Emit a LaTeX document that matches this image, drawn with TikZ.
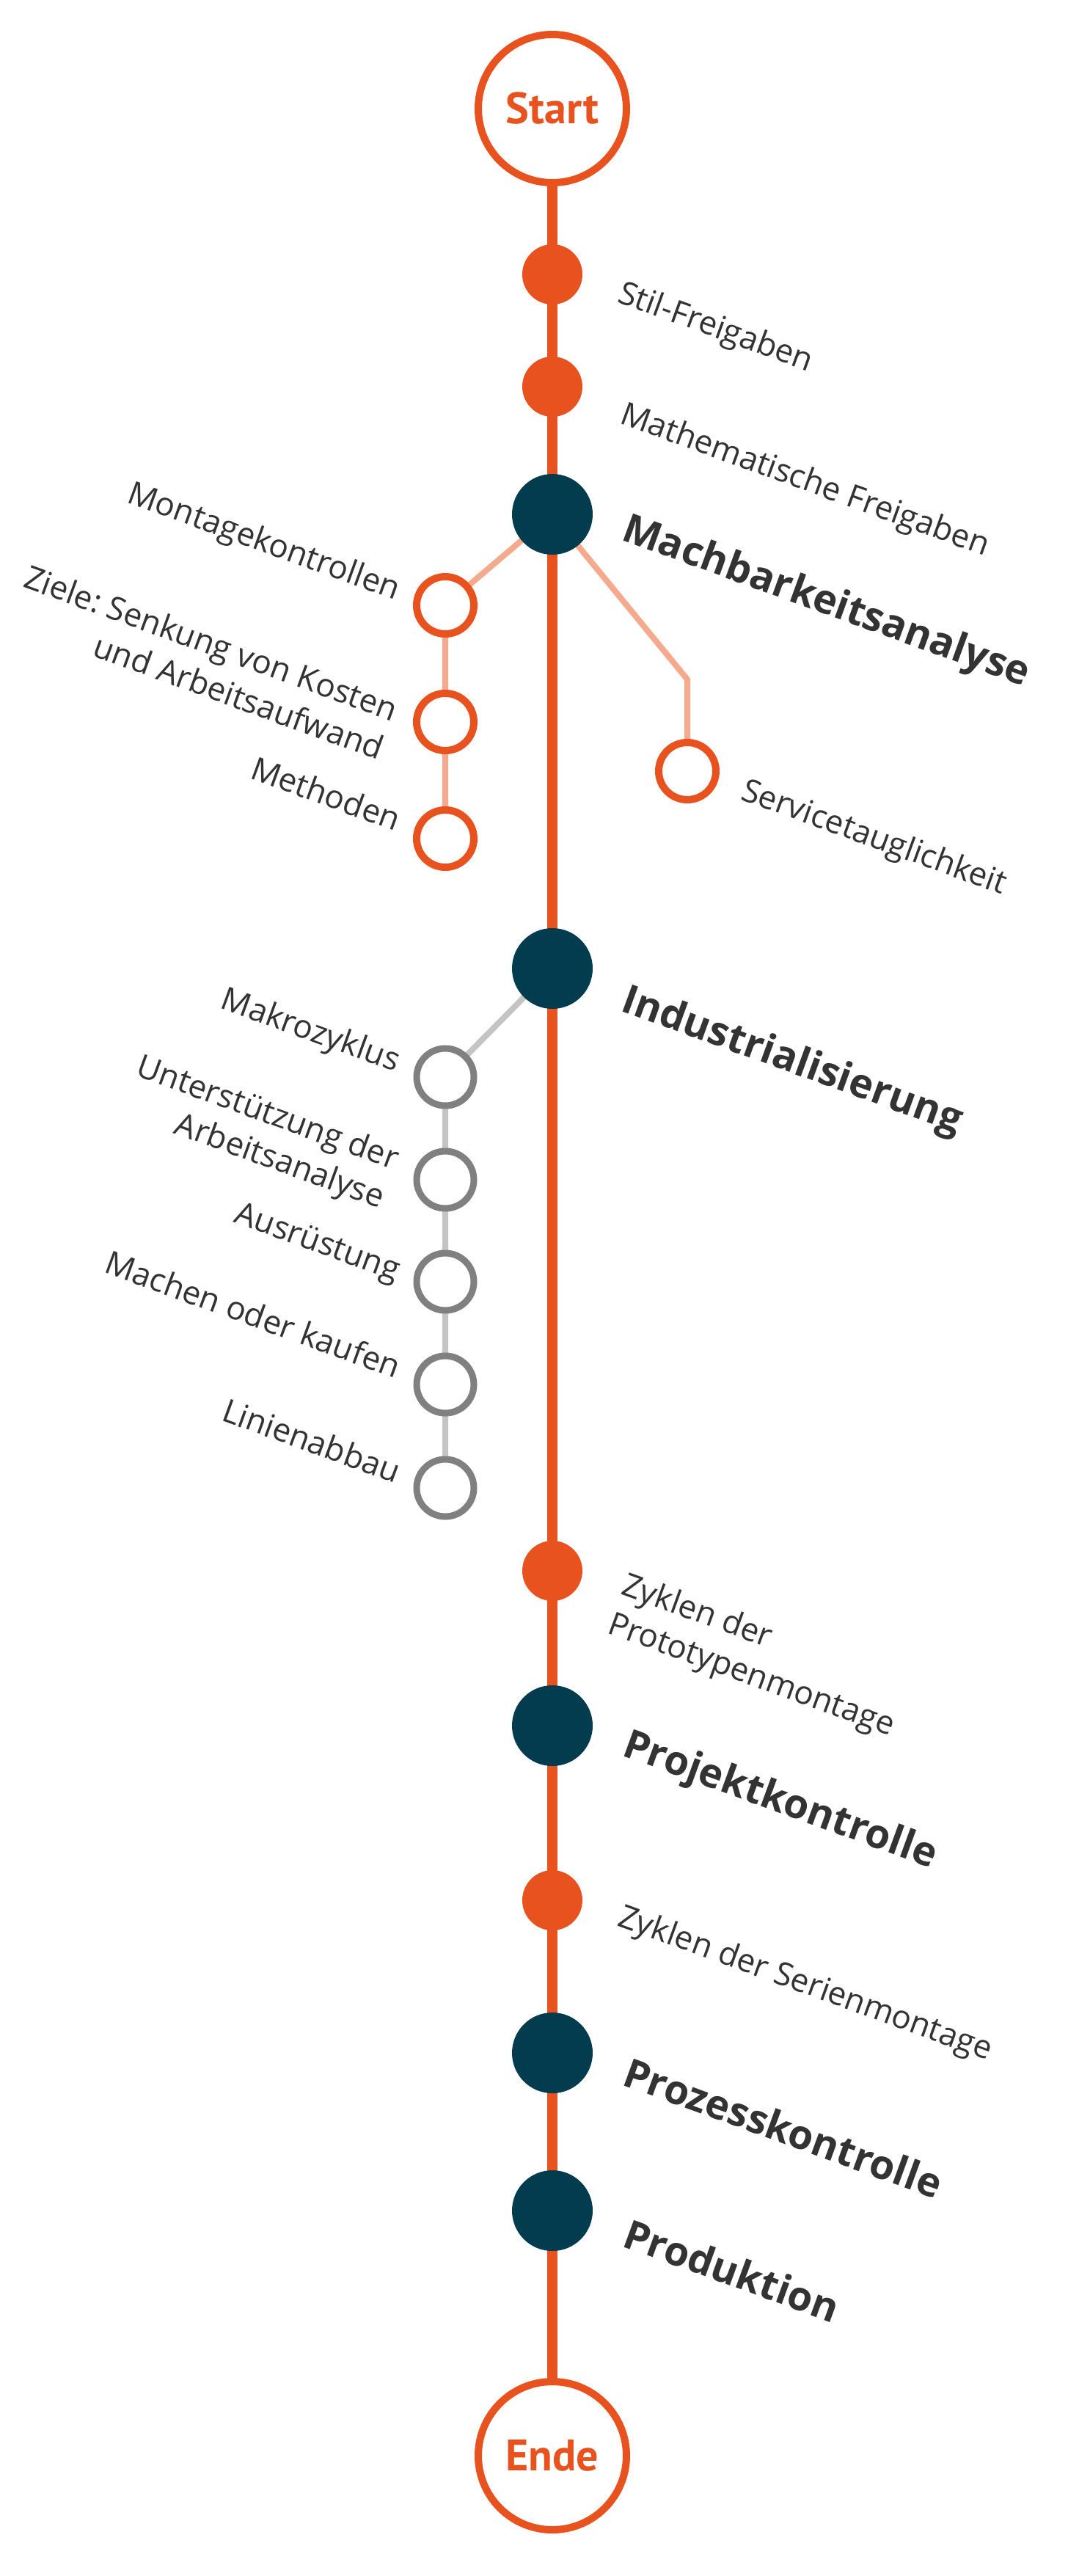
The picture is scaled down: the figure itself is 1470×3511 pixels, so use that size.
\documentclass[tikz,border=0pt]{standalone}
\usepackage{fontspec}
\setmainfont{Open Sans}
\newfontfamily\termfont{PT Sans}
\usetikzlibrary{backgrounds}
\definecolor{orng}{HTML}{E8521F}
\definecolor{dark}{HTML}{043C4F}
\definecolor{lorng}{HTML}{F5AA8E}
\definecolor{grey}{HTML}{808080}
\definecolor{lgrey}{HTML}{C4C4C4}
\definecolor{txt}{HTML}{333333}
\frenchspacing
\begin{document}
\begin{tikzpicture}[x=1pt,y=-1pt,
  lbl/.style={rotate=-20, inner sep=0pt, text=txt, font=\fontsize{44}{56}\selectfont},
  lblr/.style={lbl, anchor=base west, align=left},
  lbll/.style={lbl, anchor=base east, align=right},
  head/.style={rotate=-20, inner sep=0pt, text=txt, anchor=base west, font=\fontsize{55}{66}\selectfont\bfseries},
  odot/.style={circle, fill=orng, minimum size=82pt, inner sep=0pt},
  ddot/.style={circle, fill=dark, minimum size=110pt, inner sep=0pt},
  ocirc/.style={circle, draw=orng, line width=10pt, fill=white, minimum size=78pt, inner sep=0pt},
  gcirc/.style={circle, draw=grey, line width=9pt, fill=white, minimum size=78pt, inner sep=0pt},
  term/.style={circle, draw=orng, line width=10pt, fill=white, minimum size=202pt, inner sep=0pt, text=orng, font=\termfont\bfseries\fontsize{60}{60}\selectfont},
  mainline/.style={draw=orng, line width=14pt},
  oline/.style={draw=lorng, line width=8pt},
  gline/.style={draw=lgrey, line width=8pt}]
\useasboundingbox (0,0) rectangle (1470,3511);
% main nodes
\node[term] (start) at (753,148) {Start};
\node[odot] (stil) at (753,374) {};
\node[odot] (math) at (753,527) {};
\node[ddot] (mach) at (753,701) {};
\node[ddot] (ind) at (753,1320) {};
\node[odot] (zproto) at (753,2141) {};
\node[ddot] (proj) at (753,2352) {};
\node[odot] (zserie) at (753,2590) {};
\node[ddot] (proz) at (753,2798) {};
\node[ddot] (prod) at (753,3013) {};
\node[term] (ende) at (753,3347) {Ende};
% orange branch
\node[ocirc] (m1) at (607,825) {};
\node[ocirc] (m2) at (607,984) {};
\node[ocirc] (m3) at (607,1143) {};
\node[ocirc] (s1) at (937,1051) {};
\coordinate (bend) at (937,926);
% grey branch
\node[gcirc] (g1) at (607,1468) {};
\node[gcirc] (g2) at (607,1608) {};
\node[gcirc] (g3) at (607,1747) {};
\node[gcirc] (g4) at (607,1887) {};
\node[gcirc] (g5) at (607,2028) {};
% connectors
\begin{scope}[on background layer]
\fill[white] (0,0) rectangle (1470,3511);
\draw[mainline] (start) -- (ende);
\draw[oline] (mach.center) -- (m1.center) -- (m2.center) -- (m3.center);
\draw[oline] (mach.center) -- (bend) -- (s1.center);
\draw[gline] (ind.center) -- (g1.center) -- (g2.center) -- (g3.center) -- (g4.center) -- (g5.center);
\end{scope}
% right labels
\node[lblr] (tstil) at (840,411) {Stil-Freigaben};
\node[lblr] (tmath) at (843,576) {Mathematische Freigaben};
\node[head] (tmach) at (845,735) {Machbarkeitsanalyse};
\node[head] (tind) at (844,1377) {Industrialisierung};
\node[lblr] (tzproto) at (826,2225) {Zyklen der\\Prototypenmontage};
\node[head] (tproj) at (846,2392) {Projektkontrolle};
\node[lblr] (tzserie) at (840,2624) {Zyklen der Serienmontage};
\node[head] (tproz) at (846,2841) {Prozesskontrolle};
\node[head] (tprod) at (846,3061) {Produktion};
\node[lblr] (ts1) at (1008,1089) {Servicetauglichkeit};
% left labels
\node[lbll] (tm1) at (539,818) {Montagekontrollen};
\node[lbll] (tm2) at (516,1036) {Ziele: Senkung von Kosten\\und Arbeitsaufwand};
\node[lbll] (tm3) at (539,1133) {Methoden};
\node[lbll] (tg1) at (539,1461) {Makrozyklus};
\node[lbll] (tg2) at (518,1647) {Unterstützung der\\Arbeitsanalyse};
\node[lbll] (tg3) at (539,1746) {Ausrüstung};
\node[lbll] (tg4) at (539,1879) {Machen oder kaufen};
\node[lbll] (tg5) at (539,2022) {Linienabbau};
\end{tikzpicture}
\end{document}
